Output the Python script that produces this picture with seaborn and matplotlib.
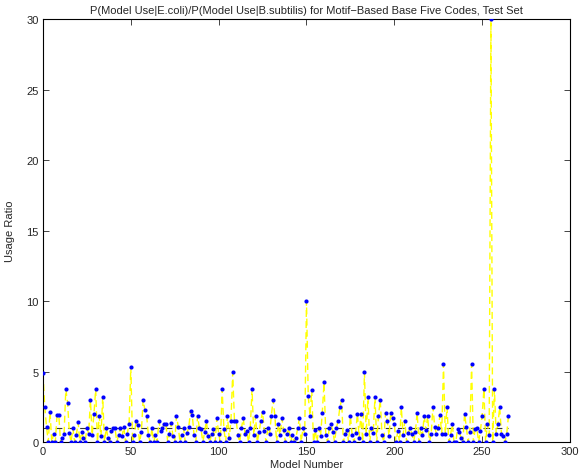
import matplotlib
matplotlib.use("Agg")
import matplotlib.pyplot as plt
import seaborn as sns
import numpy as np
import pandas as pd

title = "P(Model Use|E.coli)/P(Model Use|B.subtilis) for Motif\u2212Based Base Five Codes, Test Set"
xlabel = "Model Number"
ylabel = "Usage Ratio"
xticks = [0, 50, 100, 150, 200, 250, 300]
yticks = [0, 5, 10, 15, 20, 25, 30]

ratio = [
    4.9, 2.5, 1.1, 0, 2.15, 0, 0.57, 0, 1.9, 1.9,
    0, 0.3, 0.57, 3.76, 2.8, 0.66, 0, 1.0, 0, 0.5,
    1.4, 0, 0.7, 0.3, 0, 1.0, 0.6, 3.0, 0.5, 2.0,
    3.76, 0, 1.87, 0.4, 3.2, 0, 1.0, 0.3, 0, 0.8,
    1.0, 1.0, 0, 0.5, 1.0, 0.4, 1.08, 0, 0.6, 1.3,
    5.3, 0, 0.5, 1.5, 1.2, 0, 0.7, 3.0, 2.27, 1.87,
    0.5, 0, 1.0, 0, 0.5, 0, 1.5, 0.8, 1.0, 1.28,
    1.28, 0, 0.6, 1.35, 0.4, 0, 1.87, 1.1, 0, 0.5,
    1.0, 0, 0.64, 1.1, 2.2, 1.9, 0.5, 0, 1.87, 1.0,
    0.9, 0, 0.7, 1.5, 0.4, 0, 0.6, 0.9, 0, 1.7,
    0.6, 0, 3.76, 0.9, 0, 1.87, 0.3, 1.5, 4.94, 1.5,
    1.5, 0.5, 0, 1.0, 1.7, 0.6, 0.8, 0, 1.0, 3.76,
    0.5, 1.87, 0, 0.7, 1.5, 2.17, 0.8, 0, 1.0, 0.6,
    1.87, 3.0, 1.87, 0, 1.28, 0.5, 1.7, 0.85, 0, 0.6,
    1.0, 0, 0.5, 0, 0.3, 1.0, 1.7, 0, 1.0, 0.6,
    10.0, 3.28, 1.87, 3.7, 0, 0.85, 0, 1.0, 0.4, 2.1,
    4.23, 0.5, 0, 1.0, 1.28, 0.75, 0, 1.0, 1.5, 2.46,
    3.0, 0, 0.6, 0.85, 0, 1.87, 0.5, 0, 0.68, 2.03,
    0.3, 2.03, 0, 4.94, 0.57, 3.2, 0, 1.0, 0.66, 3.2,
    0, 1.87, 3.0, 0.5, 0, 2.1, 1.5, 0.4, 2.1, 1.7,
    1.28, 0, 0.8, 0, 2.46, 0.5, 1.5, 0, 0.68, 1.0,
    0.6, 0, 0.75, 2.1, 0, 1.0, 0.5, 1.87, 0.85, 1.87,
    0, 0.6, 2.5, 1.08, 0.57, 1.0, 1.9, 0.6, 5.53, 0.57,
    2.5, 0, 0.5, 1.28, 0, 0, 0.9, 0.75, 0.3, 0,
    2.03, 1.08, 0, 0.75, 5.53, 0, 0.9, 1.0, 0, 0.8,
    1.87, 3.76, 0, 1.28, 0.5, 30.0, 0, 3.76, 0.6, 1.28,
    2.5, 0.57, 0.4, 0, 0.6, 1.87,
]
model = list(range(len(ratio)))
reference = [1.0] * len(ratio)

df = pd.DataFrame({"model": model, "ratio": ratio, "ref": reference})

sns.set_style("ticks")
plt.rcParams["font.family"] = ["Liberation Sans", "DejaVu Sans"]

fig = plt.figure(figsize=(5.81, 4.77), dpi=100)
ax = fig.add_axes([0.074, 0.071, 0.907, 0.887])

sns.lineplot(data=df, x="model", y="ref", ax=ax, color="#333333", linewidth=0.8,
             linestyle=(0, (6, 5)), zorder=1, estimator=None, sort=False)
sns.lineplot(data=df, x="model", y="ratio", ax=ax, color="#ffff00", linewidth=1.0,
             linestyle=(0, (5, 3)), zorder=2, estimator=None, sort=False)
sns.scatterplot(data=df, x="model", y="ratio", ax=ax, color="#0000ff", s=9,
                linewidth=0, marker="o", zorder=3)

ax.set_xlim(0, 300)
ax.set_ylim(0, 30)
ax.set_xticks(xticks)
ax.set_yticks(yticks)
ax.tick_params(direction="in", top=True, right=True, length=4, width=0.6,
               labelsize=8, pad=3)
for s in ax.spines.values():
    s.set_linewidth(0.8)
    s.set_color("black")
ax.set_title(title, fontsize=8, pad=4)
ax.set_xlabel(xlabel, fontsize=8, labelpad=2)
ax.set_ylabel(ylabel, fontsize=8, labelpad=8)

fig.savefig("out.png", dpi=100, facecolor="white")
